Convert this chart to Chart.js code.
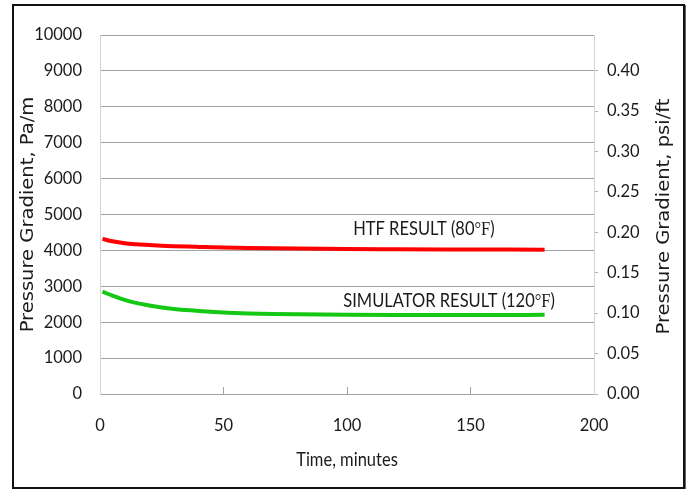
<!DOCTYPE html>
<html>
<head>
<meta charset="utf-8">
<script src="https://cdn.jsdelivr.net/npm/chart.js@4.4.1/dist/chart.umd.min.js"></script>
<style>
  html, body { margin: 0; padding: 0; background: #fff; }
  body { width: 691px; height: 489px; position: relative; overflow: hidden; }
  #frame { position: absolute; left: 12px; top: 4px; width: 669px; height: 481px; border: 2px solid #111; box-shadow: 1px 1px 0 #666; }
  #chart { position: absolute; left: 0; top: 0; }
</style>
</head>
<body>
<div id="frame"></div>
<canvas id="chart" width="691" height="489"></canvas>
<script>
// Pressure gradient vs time - HTF vs simulator

const timeMin = [1, 5, 10, 15, 20, 25, 30, 35, 40, 50, 60, 70, 80, 100, 120, 140, 160, 180];
const htfPaM  = [4320, 4255, 4200, 4170, 4148, 4130, 4117, 4106, 4097, 4080, 4067, 4058, 4051, 4040, 4033, 4027, 4023, 4020];
const simPaM  = [2850, 2740, 2620, 2530, 2465, 2412, 2370, 2338, 2310, 2270, 2244, 2228, 2218, 2205, 2200, 2200, 2200, 2205];

const xTicks = { min: 0, max: 200, step: 50 };
const leftTicks = { min: 0, max: 10000, step: 1000 };
const rightTicks = { min: 0, max: 0.444, step: 0.05 };

const seriesLabels = ['HTF RESULT (80', 'SIMULATOR RESULT (120'];
const xTitle = 'Time, minutes';
const leftTitle = 'Pressure Gradient, Pa/m';
const rightTitle = 'Pressure Gradient, psi/ft';

const sans = 'Lato, "DejaVu Sans Condensed", sans-serif';
const textColor = '#1a1a1a';
const gridColor = '#a3a3a3';

function toPoints(xs, ys) {
  return xs.map((x, i) => ({ x: x, y: ys[i] }));
}

// titles and in-plot labels drawn by hand
const textPlugin = {
  id: 'textPlugin',
  afterDraw(chart) {
    const ctx = chart.ctx;
    const area = chart.chartArea;
    const x = chart.scales.x;
    const y = chart.scales.y;
    const midY = (area.top + area.bottom) / 2;

    ctx.save();
    ctx.fillStyle = textColor;
    ctx.textAlign = 'center';
    ctx.textBaseline = 'middle';

    // x title
    ctx.save();
    ctx.translate((area.left + area.right) / 2, 460);
    ctx.scale(1, 1.2);
    ctx.font = '16.5px ' + sans;
    ctx.fillText(xTitle, 0, 0);
    ctx.restore();

    // left title
    ctx.save();
    ctx.translate(29, midY);
    ctx.rotate(-Math.PI / 2);
    ctx.scale(1.15, 1);
    ctx.font = '17px "DejaVu Sans", Verdana, sans-serif';
    ctx.fillText(leftTitle, 0, 0);
    ctx.restore();

    // right title
    ctx.save();
    ctx.translate(665, midY + 2);
    ctx.rotate(-Math.PI / 2);
    ctx.scale(1.15, 1);
    ctx.font = '17px "DejaVu Sans", Verdana, sans-serif';
    ctx.fillText(rightTitle, 0, 0);
    ctx.restore();

    // series labels with Times degree-F
    const spots = [
      { text: seriesLabels[0], x: 102.5, y: 4420 },
      { text: seriesLabels[1], x: 98.5, y: 2410 }
    ];
    ctx.textAlign = 'left';
    ctx.textBaseline = 'alphabetic';
    spots.forEach(s => {
      ctx.save();
      ctx.translate(x.getPixelForValue(s.x), y.getPixelForValue(s.y));
      ctx.scale(1, 1.2);
      let px = 0;
      ctx.font = '16.5px ' + sans;
      ctx.fillText(s.text, px, 0);
      px += ctx.measureText(s.text).width;
      ctx.font = '16.5px "Liberation Serif", "Times New Roman", serif';
      ctx.fillText('\u00B0F', px, 0);
      px += ctx.measureText('\u00B0F').width;
      ctx.font = '16.5px ' + sans;
      ctx.fillText(')', px, 0);
      ctx.restore();
    });
    ctx.restore();
  }
};

const tickFont = { family: sans, size: 16.5 };

const chart = new Chart(document.getElementById('chart'), {
  type: 'line',
  data: {
    datasets: [
      {
        label: 'HTF',
        data: toPoints(timeMin, htfPaM),
        borderColor: '#ff0000',
        borderWidth: 4,
        pointRadius: 0,
        cubicInterpolationMode: 'monotone',
        yAxisID: 'y'
      },
      {
        label: 'Simulator',
        data: toPoints(timeMin, simPaM),
        borderColor: '#14c814',
        borderWidth: 4,
        pointRadius: 0,
        cubicInterpolationMode: 'monotone',
        yAxisID: 'y'
      }
    ]
  },
  options: {
    responsive: false,
    animation: false,
    devicePixelRatio: 1,
    layout: { padding: { top: 35, left: 0, right: 0, bottom: 0 } },
    plugins: { legend: { display: false }, tooltip: { enabled: false } },
    scales: {
      x: {
        type: 'linear',
        min: xTicks.min,
        max: xTicks.max,
        ticks: {
          stepSize: xTicks.step,
          color: textColor,
          font: tickFont,
          padding: 29
        },
        grid: { drawOnChartArea: false, drawTicks: true, tickLength: -7, color: gridColor },
        border: { color: gridColor, width: 1 },
        afterFit(s) { s.height = 95; }
      },
      y: {
        position: 'left',
        min: leftTicks.min,
        max: leftTicks.max,
        ticks: {
          stepSize: leftTicks.step,
          color: textColor,
          font: tickFont,
          padding: 18,
          callback: v => String(v)
        },
        grid: { color: gridColor, drawTicks: false },
        border: { color: '#d4d4d4', width: 1 },
        afterFit(s) { s.width = 100; }
      },
      y2: {
        position: 'right',
        display: true,
        min: rightTicks.min,
        max: rightTicks.max,
        ticks: {
          stepSize: rightTicks.step,
          includeBounds: false,
          color: textColor,
          font: tickFont,
          padding: 9,
          callback: v => Number(v).toFixed(2)
        },
        grid: { drawOnChartArea: false, drawTicks: true, tickLength: 4, color: '#b0b0b0' },
        border: { color: '#d4d4d4', width: 1 },
        afterFit(s) { s.width = 97; }
      }
    }
  },
  plugins: [textPlugin]
});
</script>
</body>
</html>
